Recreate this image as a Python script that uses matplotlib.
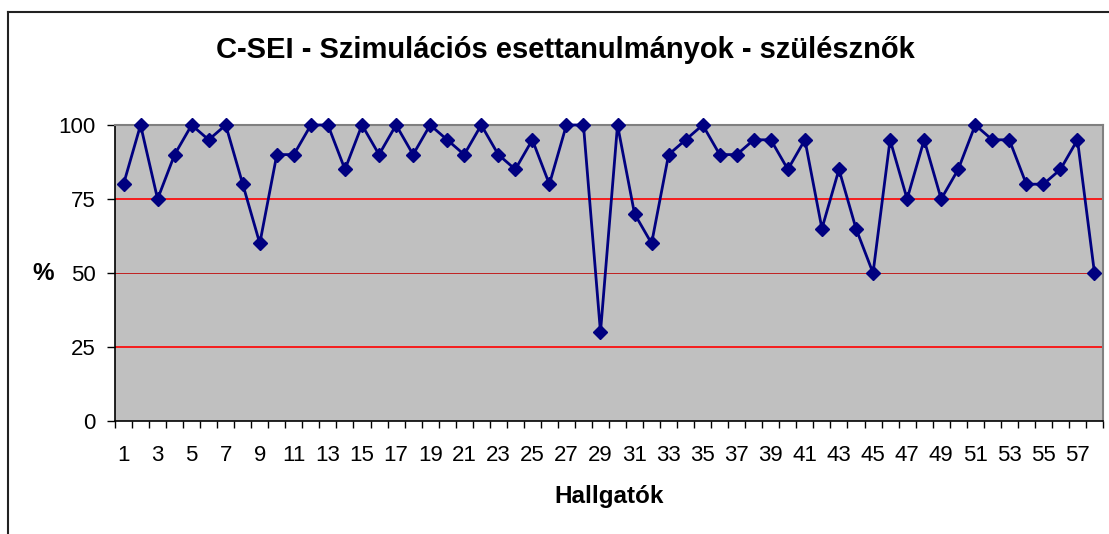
import numpy as np
import matplotlib
matplotlib.use("Agg")
import matplotlib.pyplot as plt
from matplotlib.lines import Line2D

plt.rcParams['font.family'] = ['Liberation Sans', 'DejaVu Sans']

# Adatok (leolvasva az ábráról)
hallgatok = list(range(1, 59))
eredmeny = [80, 100, 75, 90, 100, 95, 100, 80, 60, 90,
            90, 100, 100, 85, 100, 90, 100, 90, 100, 95,
            90, 100, 90, 85, 95, 80, 100, 100, 30, 100,
            70, 60, 90, 95, 100, 90, 90, 95, 95, 85,
            95, 65, 85, 65, 50, 95, 75, 95, 75, 85,
            100, 95, 95, 80, 80, 85, 95, 50]
y_ticks = [0, 25, 50, 75, 100]
cim = "C-SEI - Szimulációs esettanulmányok - szülésznők"

W, H = 1109, 534
fig = plt.figure(figsize=(W / 100, H / 100), dpi=100)

# Keret a diagram körül
fig.add_artist(Line2D([8 / W, 8 / W], [0, 1 - 12 / H], color='#222222', lw=1.5,
                      transform=fig.transFigure))
fig.add_artist(Line2D([8 / W, 1], [1 - 12 / H, 1 - 12 / H], color='#222222', lw=1.5,
                      transform=fig.transFigure))

ax = fig.add_axes([115 / W, 113 / H, 988 / W, 296 / H])
ax.set_facecolor('#C0C0C0')

# Rácsvonalak
for v in y_ticks[1:-1]:
    if v == 50:
        ax.axhline(v, color='#C02020', lw=0.7, zorder=1)
    else:
        ax.axhline(v, color='#FF0000', lw=1.2, zorder=1)

ax.plot(hallgatok, eredmeny, color='#000080', lw=2, marker='D', ms=7,
        markerfacecolor='#000080', markeredgecolor='#000080', zorder=3,
        clip_on=False)

ax.set_xlim(0.5, 58.5)
ax.set_ylim(0, 100)

ax.set_xticks(np.arange(0.5, 59, 1))
ax.set_xticklabels([])
ax.set_xticks(hallgatok[::2], minor=True)
ax.set_xticklabels([str(h) for h in hallgatok[::2]], minor=True, fontsize=16)
ax.tick_params(axis='x', which='major', direction='out', length=5, width=1)
ax.tick_params(axis='x', which='minor', length=0, pad=17)

ax.set_yticks(y_ticks)
ax.set_yticklabels([str(v) for v in y_ticks], fontsize=16)
ax.tick_params(axis='y', direction='out', length=6, width=1, pad=8)

for s in ['top', 'right']:
    ax.spines[s].set_color('#808080')
    ax.spines[s].set_linewidth(1.5)
for s in ['left', 'bottom']:
    ax.spines[s].set_color('#000000')
    ax.spines[s].set_linewidth(1.2)

fig.text(565 / W, 1 - 50 / H, cim, ha='center', va='center',
         fontsize=21, fontweight='bold')
fig.text(43 / W, 1 - 273 / H, "%", ha='center', va='center',
         fontsize=17.5, fontweight='bold')
fig.text(609 / W, 1 - 497 / H, "Hallgatók", ha='center', va='center',
         fontsize=17.5, fontweight='bold')

fig.savefig("out.png", dpi=100)
